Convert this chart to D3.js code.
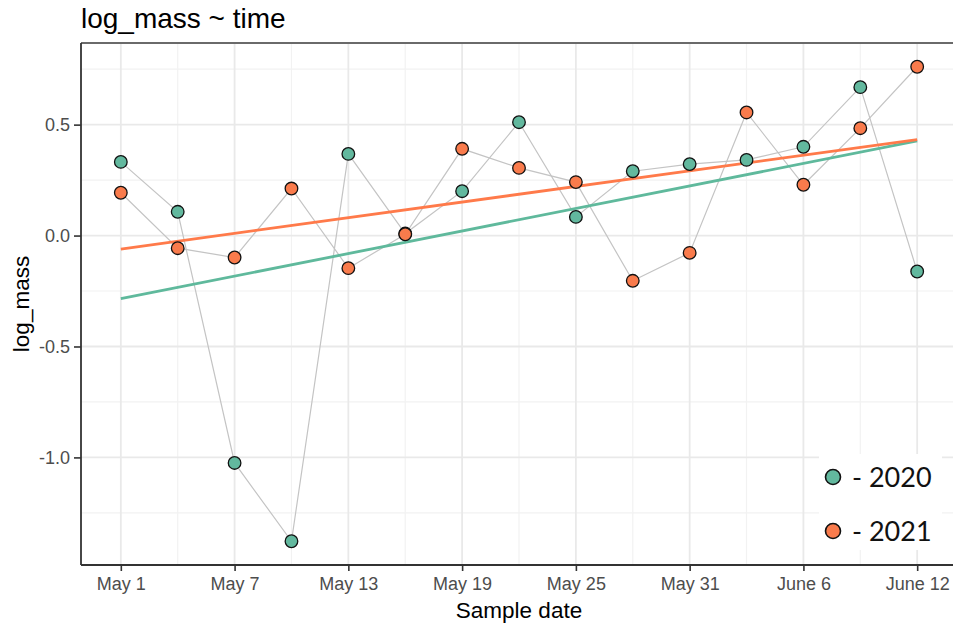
<!DOCTYPE html>
<html>
<head>
<meta charset="utf-8">
<script src="https://cdn.jsdelivr.net/npm/d3@7"></script>
<style>
  body { margin: 0; background: #fff; }
  svg { display: block; font-family: "Liberation Sans", Arial, sans-serif; }
</style>
</head>
<body>
<svg width="953" height="626"></svg>
<script>
// sample dates (every 3 days) and log_mass for each year
const sampleDates = ['05-01', '05-04', '05-07', '05-10', '05-13', '05-16', '05-19', '05-22',
  '05-25', '05-28', '05-31', '06-03', '06-06', '06-09', '06-12']
const mass2020 = [0.332, 0.107, -1.025, -1.378, 0.368, 0.009, 0.200, 0.511,
  0.084, 0.290, 0.322, 0.341, 0.400, 0.669, -0.162]
const mass2021 = [0.193, -0.057, -0.099, 0.212, -0.147, 0.006, 0.391, 0.305,
  0.241, -0.204, -0.078, 0.555, 0.229, 0.484, 0.761]
const xTickDates = ['05-01', '05-07', '05-13', '05-19', '05-25', '05-31', '06-06', '06-12']
const xMinorDates = ['05-04', '05-10', '05-16', '05-22', '05-28', '06-03', '06-09']
const yTicks = [-1.0, -0.5, 0.0, 0.5]
const yMinor = [-1.25, -0.75, -0.25, 0.25, 0.75]
const years = ['2020', '2021']

const colors = { '2020': '#62b89e', '2021': '#f97b4c' }
const lineColors = { '2020': '#5fb99c', '2021': '#ff7a4a' }

const toDate = (s) => new Date(2021, +s.slice(0, 2) - 1, +s.slice(3))

const series = [
  { year: '2020', values: sampleDates.map((d, i) => ({ date: toDate(d), v: mass2020[i] })) },
  { year: '2021', values: sampleDates.map((d, i) => ({ date: toDate(d), v: mass2021[i] })) }
]

const pLeft = 81, pRight = 957, pTop = 43, pBottom = 565

const svg = d3.select('svg')

// ggplot style 5% expansion
const dayMs = 86400000
const d0 = toDate(sampleDates[0]), d1 = toDate(sampleDates[sampleDates.length - 1])
const xPad = (d1 - d0) * 0.05
const xScale = d3.scaleTime()
  .domain([new Date(+d0 - xPad), new Date(+d1 + xPad)])
  .range([pLeft, pRight])

const allV = mass2020.concat(mass2021)
const yMin = d3.min(allV), yMax = d3.max(allV)
const yPad = (yMax - yMin) * 0.05
const yScale = d3.scaleLinear()
  .domain([yMin - yPad, yMax + yPad])
  .range([pBottom, pTop])

// grid
const grid = svg.append('g')
grid.selectAll('.ymin').data(yMinor).enter().append('line')
  .attr('x1', pLeft).attr('x2', pRight)
  .attr('y1', (d) => yScale(d)).attr('y2', (d) => yScale(d))
  .attr('stroke', '#f2f2f2').attr('stroke-width', 1.2)
grid.selectAll('.xmin').data(xMinorDates).enter().append('line')
  .attr('x1', (d) => xScale(toDate(d))).attr('x2', (d) => xScale(toDate(d)))
  .attr('y1', pTop).attr('y2', pBottom)
  .attr('stroke', '#f2f2f2').attr('stroke-width', 1.2)
grid.selectAll('.ymaj').data(yTicks).enter().append('line')
  .attr('x1', pLeft).attr('x2', pRight)
  .attr('y1', (d) => yScale(d)).attr('y2', (d) => yScale(d))
  .attr('stroke', '#e9e9e9').attr('stroke-width', 1.8)
grid.selectAll('.xmaj').data(xTickDates).enter().append('line')
  .attr('x1', (d) => xScale(toDate(d))).attr('x2', (d) => xScale(toDate(d)))
  .attr('y1', pTop).attr('y2', pBottom)
  .attr('stroke', '#e9e9e9').attr('stroke-width', 1.8)

// gray lines joining the samples
const line = d3.line()
  .x((d) => xScale(d.date))
  .y((d) => yScale(d.v))

series.forEach((s) => {
  svg.append('path')
    .datum(s.values)
    .attr('d', line)
    .attr('fill', 'none')
    .attr('stroke', '#c4c4c4')
    .attr('stroke-width', 1.2)
})

// linear fit for each year (geom_smooth method = lm)
series.forEach((s) => {
  const xs = s.values.map((d) => (d.date - d0) / dayMs)
  const ys = s.values.map((d) => d.v)
  const mx = d3.mean(xs), my = d3.mean(ys)
  const slope = d3.sum(xs, (x, i) => (x - mx) * (ys[i] - my)) / d3.sum(xs, (x) => (x - mx) * (x - mx))
  const fit = [xs[0], xs[xs.length - 1]].map((x) => ({
    date: new Date(+d0 + x * dayMs),
    v: my + slope * (x - mx)
  }))
  svg.append('path')
    .datum(fit)
    .attr('d', line)
    .attr('fill', 'none')
    .attr('stroke', lineColors[s.year])
    .attr('stroke-width', 2.8)
})

// points
series.forEach((s) => {
  svg.append('g').selectAll('circle')
    .data(s.values)
    .enter()
    .append('circle')
    .attr('cx', (d) => xScale(d.date))
    .attr('cy', (d) => yScale(d.v))
    .attr('r', 6.3)
    .attr('fill', colors[s.year])
    .attr('stroke', '#111')
    .attr('stroke-width', 1.3)
})

// panel border + axes
svg.append('line').attr('x1', pLeft).attr('x2', pRight).attr('y1', pTop).attr('y2', pTop)
  .attr('stroke', '#6a6a6a').attr('stroke-width', 1.8)
svg.append('line').attr('x1', pLeft).attr('x2', pLeft).attr('y1', pTop).attr('y2', pBottom)
  .attr('stroke', '#333').attr('stroke-width', 1.8)
svg.append('line').attr('x1', pLeft).attr('x2', pRight).attr('y1', pBottom).attr('y2', pBottom)
  .attr('stroke', '#333').attr('stroke-width', 1.8)

const xAxis = svg.append('g')
  .attr('transform', `translate(0, ${pBottom})`)
  .call(d3.axisBottom(xScale)
    .tickValues(xTickDates.map(toDate))
    .tickFormat(d3.timeFormat('%B %-d'))
    .tickSize(6).tickPadding(6))
// plain hyphen for negatives, like R does
const yFmt = (d) => d3.format('.1f')(d).replace('\u2212', '-')
const yAxis = svg.append('g')
  .attr('transform', `translate(${pLeft}, 0)`)
  .call(d3.axisLeft(yScale)
    .tickValues(yTicks)
    .tickFormat(yFmt)
    .tickSize(7).tickPadding(4))

;[xAxis, yAxis].forEach((a) => {
  a.select('.domain').remove()
  a.selectAll('line').attr('stroke', '#333').attr('stroke-width', 1.6)
  a.selectAll('text')
    .attr('fill', '#4d4d4d')
    .style('font-size', '18px')
    .style('font-family', '"Liberation Sans", Arial, sans-serif')
})
yAxis.selectAll('text').attr('dy', '0.35em')

// titles
svg.append('text')
  .attr('x', pLeft)
  .attr('y', 28)
  .style('font-size', '28px')
  .attr('fill', '#000')
  .text('log_mass ~ time')

svg.append('text')
  .attr('x', (pLeft + pRight) / 2)
  .attr('y', 618)
  .attr('text-anchor', 'middle')
  .style('font-size', '22.5px')
  .text('Sample date')

svg.append('text')
  .attr('transform', `translate(29, ${(pTop + pBottom) / 2}) rotate(-90)`)
  .attr('text-anchor', 'middle')
  .style('font-size', '22.5px')
  .text('log_mass')

// legend (pasted box)
const legend = svg.append('g')
legend.append('rect')
  .attr('x', 819).attr('y', 454).attr('width', 123).attr('height', 96)
  .attr('fill', '#fff')
years.forEach((yr, i) => {
  const cy = 477 + i * 54
  legend.append('circle')
    .attr('cx', 833).attr('cy', cy).attr('r', 7.5)
    .attr('fill', colors[yr]).attr('stroke', '#111').attr('stroke-width', 1.6)
  legend.append('text')
    .attr('x', 852).attr('y', cy + 9.5)
    .style('font-family', 'Lato, "Open Sans", sans-serif')
    .style('font-size', '27px')
    .attr('fill', '#111')
    .text('- ' + yr)
})
</script>
</body>
</html>
